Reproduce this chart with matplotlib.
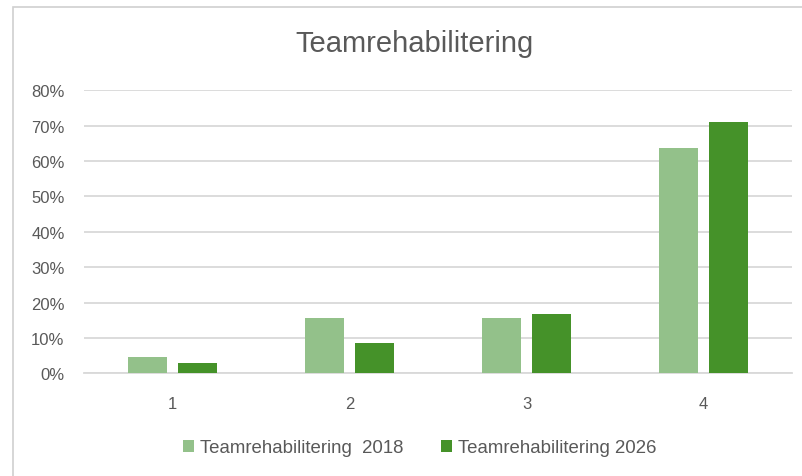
import matplotlib
matplotlib.use("Agg")
import matplotlib.pyplot as plt
from matplotlib.patches import Rectangle
import numpy as np

categories = ["1", "2", "3", "4"]
series_names = ["Teamrehabilitering  2018", "Teamrehabilitering 2026"]
values_2018 = [4.5, 15.6, 15.6, 63.6]
values_2026 = [2.9, 8.7, 16.8, 71.1]
yticks = [0, 10, 20, 30, 40, 50, 60, 70, 80]
title = "Teamrehabilitering"

c_light = "#93C18A"
c_dark = "#459229"
txt = "#595959"
grid = "#D9D9D9"

plt.rcParams["font.family"] = ["Liberation Sans", "DejaVu Sans"]

fig = plt.figure(figsize=(8.03, 4.77), dpi=100)
fig.patches.append(Rectangle((13/803, -0.01), 1.0, 1 - 8/477 + 0.01, transform=fig.transFigure,
                             fill=False, edgecolor="#D0D0D0", linewidth=1.2))

ax = fig.add_axes([84/803, 1 - 374.3/477, (792-84)/803, (374.3-91.3)/477])
x = np.arange(len(categories))
w = 0.223
off = 0.141
ax.bar(x - off, values_2018, w, color=c_light, label=series_names[0], zorder=3)
ax.bar(x + off, values_2026, w, color=c_dark, label=series_names[1], zorder=3)

ax.set_xlim(-0.5, len(categories) - 0.5)
ax.set_ylim(0, 80)
ax.set_yticks(yticks)
ax.set_yticklabels([f"{v}%" for v in yticks])
ax.set_xticks(x)
ax.set_xticklabels(categories)
ax.yaxis.grid(True, color=grid, linewidth=1.3, zorder=0)
for s in ["top", "right", "left"]:
    ax.spines[s].set_visible(False)
ax.spines["bottom"].set_color(grid)
ax.spines["bottom"].set_linewidth(1.3)
ax.tick_params(axis="both", length=0, labelsize=12, labelcolor=txt)
ax.tick_params(axis="x", pad=16)
ax.tick_params(axis="y", pad=14)

fig.text(415/803, 1 - 44/477, title, ha="center", va="center", fontsize=21, color=txt)

handles, labels = ax.get_legend_handles_labels()
fig.legend(handles, labels, loc="center", bbox_to_anchor=(420/803, 1 - 449/477),
           ncol=2, frameon=False, fontsize=13.4, labelcolor=txt,
           handlelength=0.6, handleheight=0.6, handletextpad=0.32, columnspacing=2.0,
           borderaxespad=0, borderpad=0)

fig.savefig("out.png", dpi=100)
